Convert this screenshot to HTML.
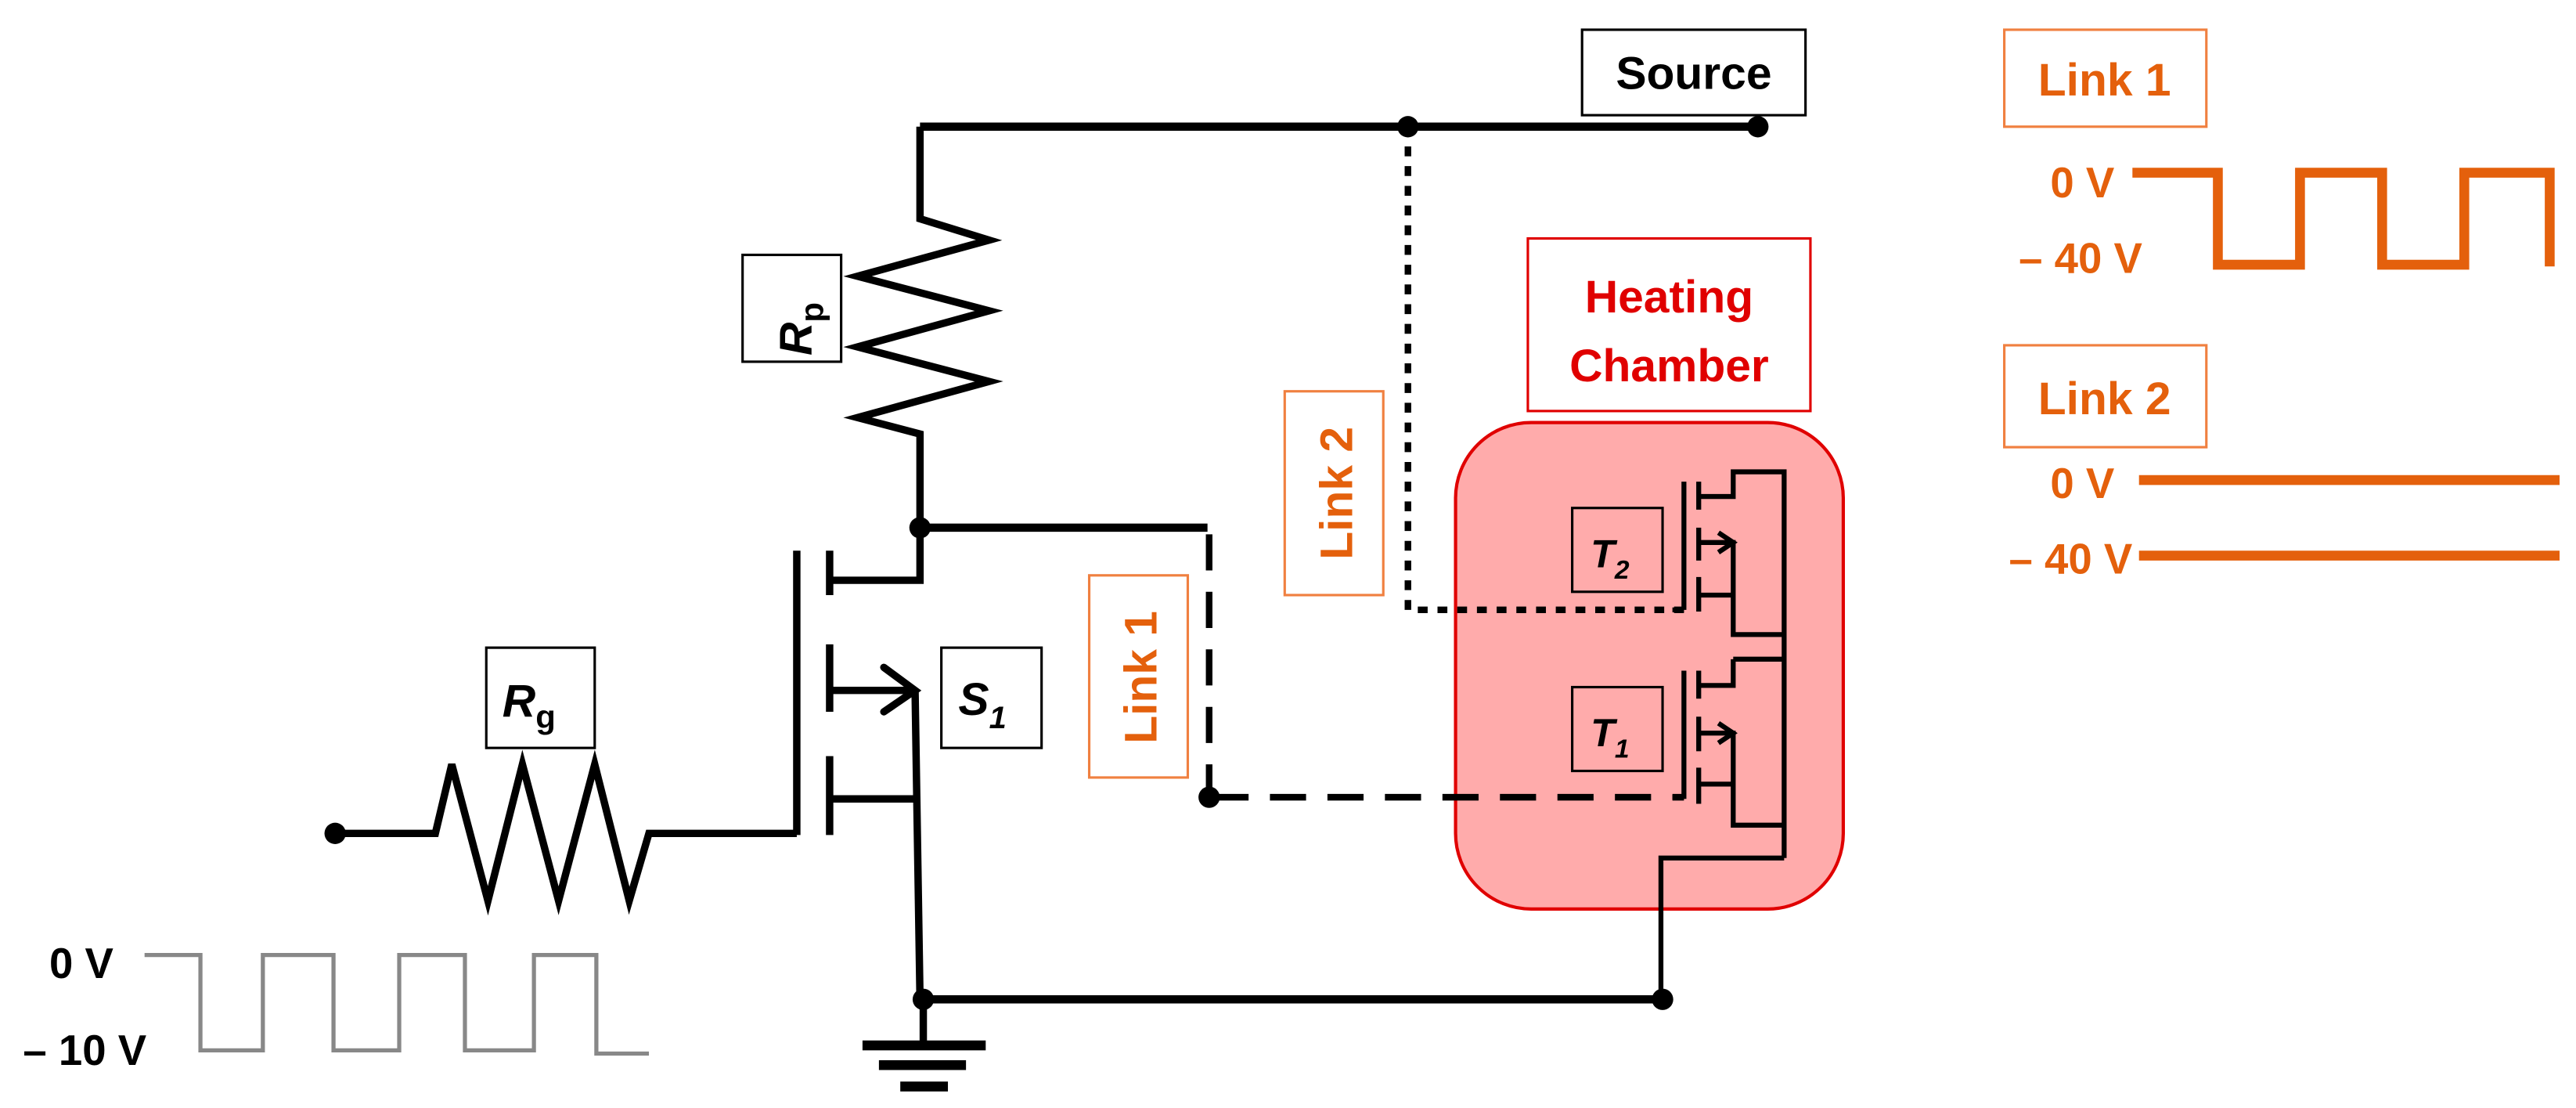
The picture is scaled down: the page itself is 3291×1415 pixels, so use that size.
<!DOCTYPE html>
<html><head><meta charset="utf-8"><style>
html,body{margin:0;padding:0;background:#fff;}
svg{display:block;}
text{font-family:"Liberation Sans",sans-serif;font-weight:bold;}
</style></head><body>
<svg width="3291" height="1415" viewBox="0 0 1568 674" xmlns="http://www.w3.org/2000/svg">
<rect width="1568" height="674" fill="#fff"/>
<!-- heating chamber -->
<rect x="886" y="257" width="236" height="296" rx="46" fill="#ffabab" stroke="#e00000" stroke-width="2"/>
<rect x="930" y="145" width="172" height="105" fill="#fff" stroke="#e00000" stroke-width="1.5"/>
<text x="1016" y="190" font-size="28" fill="#e00000" text-anchor="middle">Heating</text>
<text x="1016" y="232" font-size="28" fill="#e00000" text-anchor="middle">Chamber</text>

<g stroke="#000" fill="none" stroke-linecap="butt">
<!-- top wire -->
<path d="M560 77 H1070" stroke-width="5"/>
<!-- Rp -->
<path d="M560 77 V133 L602 146 L522 168 L602 189 L522 211 L602 232 L522 254 L560 264 V321" stroke-width="4.5" stroke-linejoin="miter"/>
<path d="M560 321 H735" stroke-width="5"/>
<!-- S1 mosfet -->
<path d="M485 335 V508" stroke-width="4.5"/>
<path d="M505 335 V362 M505 392 V433 M505 460 V508" stroke-width="4.5"/>
<path d="M505 353 H560 V321" stroke-width="4.5"/>
<path d="M505 420 H555" stroke-width="4.5"/>
<path d="M538 406 L557 420 L538 433" stroke-width="4.5" stroke-linecap="round"/>
<path d="M505 486 H560" stroke-width="4.5"/>
<path d="M557 420 L560 608" stroke-width="4.5"/>
<!-- gate / Rg -->
<path d="M204 507 H265 L275 465 L297 548 L318 465 L340 548 L362 465 L383 548 L395 507 H485" stroke-width="4.5"/>
<!-- ground wire -->
<path d="M562 608 H1012" stroke-width="5"/>
<path d="M562 608 V634" stroke-width="4.5"/>
<path d="M525 636 H600" stroke-width="6"/>
<path d="M535 648 H588" stroke-width="6"/>
<path d="M548 661 H577" stroke-width="6"/>
<!-- link1 dashed -->
<path d="M736 325 V485" stroke-width="4" stroke-dasharray="22,13"/>
<path d="M738 485 H1025" stroke-width="4" stroke-dasharray="22,13"/>
<!-- link2 dotted -->
<path d="M857 77 V371 H1025" stroke-width="4" stroke-dasharray="6,6"/>
<!-- chamber transistors -->
<g stroke-width="3">
<path d="M1025 293 V371"/>
<path d="M1034 293 V310 M1034 321 V341 M1034 351 V372"/>
<path d="M1034 302 H1055 V287 H1086 V522"/>
<path d="M1034 330 H1055 V386 H1086"/>
<path d="M1046 324 L1055 330 L1046 336"/>
<path d="M1034 362 H1055"/>
<path d="M1055 401 H1086"/>
<path d="M1025 408 V486"/>
<path d="M1034 408 V425 M1034 436 V457 M1034 467 V489"/>
<path d="M1034 417 H1055 V401"/>
<path d="M1034 446 H1055 V502 H1086"/>
<path d="M1046 440 L1055 446 L1046 452"/>
<path d="M1034 477 H1055"/>
<path d="M1086 522 H1011 V608"/>
</g>
<path d="M1018 371 H1025 M1018 485 H1025" stroke-width="3"/>
</g>
<!-- dots -->
<g fill="#000">
<circle cx="857" cy="77" r="6.5"/><circle cx="1070" cy="77" r="6.5"/>
<circle cx="560" cy="321" r="6.5"/><circle cx="736" cy="485" r="6.5"/>
<circle cx="204" cy="507" r="6.5"/><circle cx="562" cy="608" r="6.5"/>
<circle cx="1012" cy="608" r="6.5"/>
</g>

<!-- label boxes -->
<rect x="963" y="18" width="136" height="52" fill="#fff" stroke="#000" stroke-width="1.5"/>
<text x="1031" y="54" font-size="28" text-anchor="middle">Source</text>
<rect x="452" y="155" width="60" height="65" fill="#fff" stroke="#000" stroke-width="1.5"/>
<text transform="translate(494,200) rotate(-90)" font-size="28" font-style="italic" text-anchor="middle">R<tspan font-size="20" font-style="normal" dy="7">p</tspan></text>
<rect x="296" y="394" width="66" height="61" fill="#fff" stroke="#000" stroke-width="1.5"/>
<text x="322" y="436" font-size="28" font-style="italic" text-anchor="middle">R<tspan font-size="20" font-style="normal" dy="7">g</tspan></text>
<rect x="573" y="394" width="61" height="61" fill="#fff" stroke="#000" stroke-width="1.5"/>
<text x="598" y="435" font-size="28" font-style="italic" text-anchor="middle">S<tspan font-size="19" dy="8">1</tspan></text>
<rect x="957" y="309" width="55" height="51" fill="none" stroke="#000" stroke-width="1.5"/>
<text x="980" y="345" font-size="24" font-style="italic" text-anchor="middle">T<tspan font-size="16" dy="7">2</tspan></text>
<rect x="957" y="418" width="55" height="51" fill="none" stroke="#000" stroke-width="1.5"/>
<text x="980" y="454" font-size="24" font-style="italic" text-anchor="middle">T<tspan font-size="16" dy="7">1</tspan></text>

<!-- orange link labels -->
<g fill="#e4600c">
<rect x="782" y="238" width="60" height="124" fill="#fff" stroke="#f08040" stroke-width="1.5"/>
<text transform="translate(823,300) rotate(-90)" font-size="28" text-anchor="middle">Link 2</text>
<rect x="663" y="350" width="60" height="123" fill="#fff" stroke="#f08040" stroke-width="1.5"/>
<text transform="translate(704,412) rotate(-90)" font-size="28" text-anchor="middle">Link 1</text>
<rect x="1220" y="18" width="123" height="59" fill="#fff" stroke="#f08040" stroke-width="1.5"/>
<text x="1281" y="58" font-size="28" text-anchor="middle">Link 1</text>
<rect x="1220" y="210" width="123" height="62" fill="#fff" stroke="#f08040" stroke-width="1.5"/>
<text x="1281" y="252" font-size="28" text-anchor="middle">Link 2</text>
<text x="1287" y="120" font-size="26" text-anchor="end">0 V</text>
<text x="1304" y="166" font-size="26" text-anchor="end">– 40 V</text>
<text x="1287" y="303" font-size="26" text-anchor="end">0 V</text>
<text x="1298" y="349" font-size="26" text-anchor="end">– 40 V</text>
</g>
<g stroke="#e4600c" stroke-width="6" fill="none">
<path d="M1298 105 H1350 V161 H1400 V105 H1450 V161 H1500 V105 H1552 V162"/>
<path d="M1302 292 H1558"/>
<path d="M1302 338 H1558"/>
</g>

<!-- gray input waveform -->
<text x="30" y="595" font-size="26">0 V</text>
<text x="14" y="648" font-size="26">– 10 V</text>
<path d="M88 581 H122 V639 H160 V581 H203 V639 H243 V581 H283 V639 H325 V581 H363 V641 H395" stroke="#888" stroke-width="2.5" fill="none"/>
</svg>
</body></html>
